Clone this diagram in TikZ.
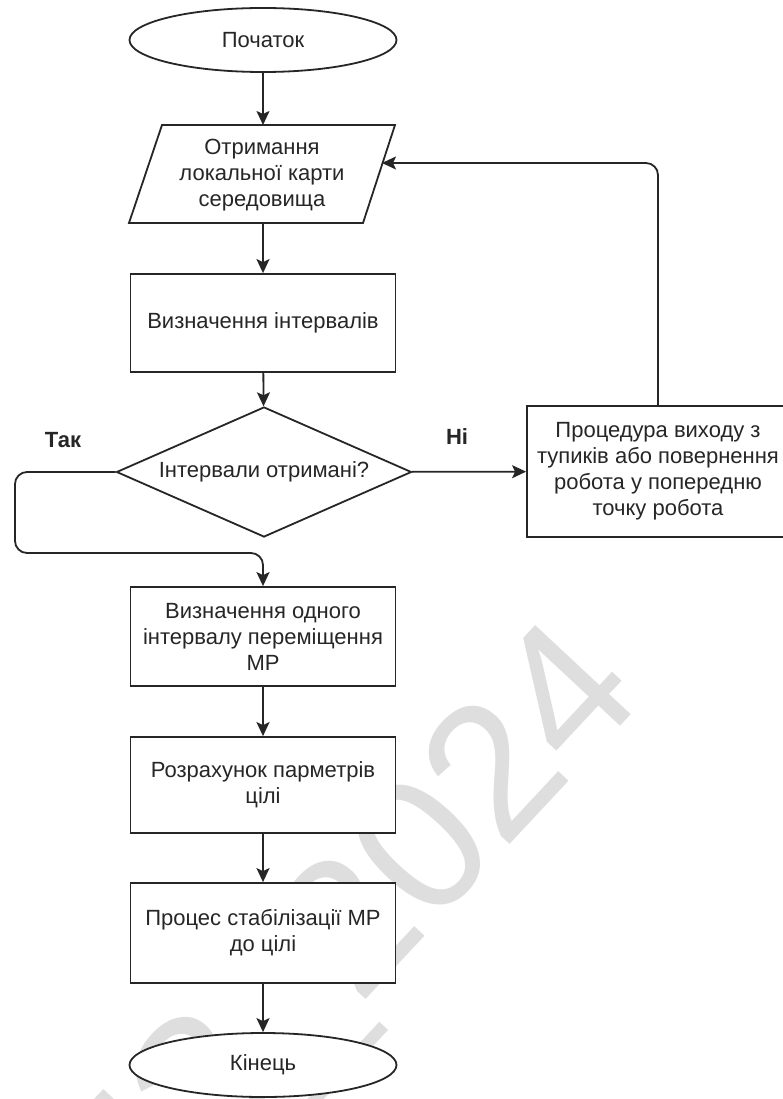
\documentclass[tikz,border=0pt]{standalone}
\usepackage{fontspec}
\setmainfont{Liberation Sans}
\usetikzlibrary{shapes.geometric,arrows.meta}

\begin{document}
\begin{tikzpicture}[x=1pt,y=-1pt,
  base/.style={font=\fontsize{22}{26}\selectfont, text=black!85, align=center,
    line width=1.8pt, draw=black!85, fill=white},
  terminal/.style={base, ellipse, minimum width=267, minimum height=64, inner sep=0},
  proc/.style={base, rectangle, minimum width=265, minimum height=98, inner sep=0},
  decision/.style={base, diamond, aspect=2.27, minimum width=295, minimum height=130, inner sep=0},
  flow/.style={line width=1.8pt, draw=black!85, -{Stealth[length=14pt,width=13pt,inset=3pt]}},
  tag/.style={font=\bfseries\fontsize{22}{26}\selectfont, text=black!85},
  stampstyle/.style={text=black!13, inner sep=0, font=\fontsize{190}{190}\selectfont},
]
\useasboundingbox[fill=white] (0,0) rectangle (782,1099);

% watermark, laid under the chart
\node[stampstyle, anchor=base, rotate=47] (stamp) at (382,982) {ПЗ\_2024};

% terminals and steps
\node[terminal] (start) at (263,40) {Початок};

\draw[line width=1.8pt, draw=black!85, fill=white] (129,223) -- (363,223) -- (395,125) -- (162,125) -- cycle;
\node[base, draw=none, fill=none, inner sep=0] (input) at (262,175) {Отримання\\локальної карти\\середовища};
\coordinate (inN) at (263,125);
\coordinate (inS) at (263,223);
\coordinate (inE) at (382,163);

\node[proc] (intervals) at (263,323) {Визначення інтервалів};
\node[decision] (check) at (264,472) {Інтервали отримані?};
\node[proc, minimum width=262, minimum height=131] (escape) at (658,471.5)
  {Процедура виходу з\\тупиків або повернення\\робота у попередню\\точку робота};
\node[proc, minimum height=99] (choose) at (263,636.5)
  {Визначення одного\\інтервалу переміщення\\МР};
\node[proc, minimum height=96] (calc) at (263,785) {Розрахунок парметрів\\цілі};
\node[proc, minimum height=100] (stab) at (263,933) {Процес стабілізації МР\\до цілі};
\node[terminal] (finish) at (263,1065) {Кінець};

% branch labels
\node[tag] (yes) at (63,440) {Так};
\node[tag] (no) at (457,437) {Ні};

% connectors
\coordinate (yesL) at (15,553);
\draw[flow] (start) -- (inN);
\draw[flow] (inS) -- (intervals);
\draw[flow] (intervals) -- (check);
\draw[flow] (check) -- (escape);
\draw[flow, rounded corners=12pt] (check.west) -| (yesL) -| (choose.north);
\draw[flow, rounded corners=12pt] (escape.north) |- (inE);
\draw[flow] (choose) -- (calc);
\draw[flow] (calc) -- (stab);
\draw[flow] (stab) -- (finish);
\end{tikzpicture}
\end{document}
